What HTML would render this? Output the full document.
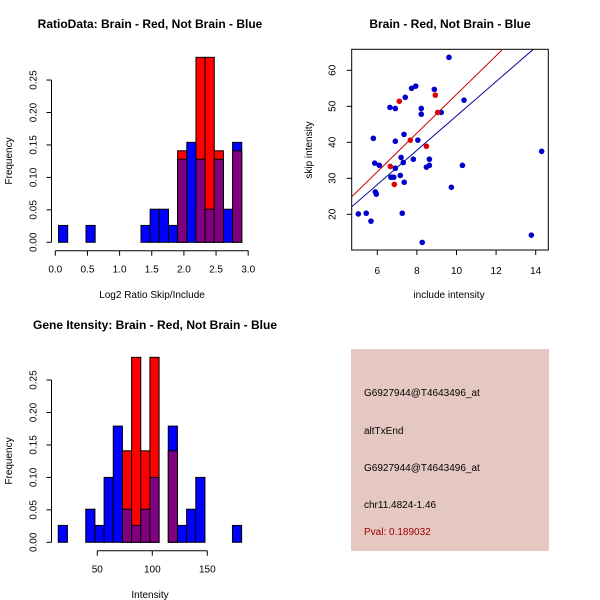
<!DOCTYPE html>
<html><head><meta charset="utf-8"><style>body{margin:0;background:#fff}svg{display:block;font-family:"Liberation Sans",sans-serif}</style></head>
<body>
<svg id="s" width="600" height="600" xmlns="http://www.w3.org/2000/svg">
<rect width="600" height="600" fill="#fff"/>
<text x="150" y="28" font-size="12" font-weight="bold" text-anchor="middle">RatioData: Brain - Red, Not Brain - Blue</text>
<text x="450" y="28" font-size="12" font-weight="bold" text-anchor="middle">Brain - Red, Not Brain - Blue</text>
<text x="155" y="329" font-size="12" font-weight="bold" text-anchor="middle">Gene Itensity: Brain - Red, Not Brain - Blue</text>
<text x="152" y="298" font-size="10" text-anchor="middle">Log2 Ratio Skip/Include</text>
<text x="150" y="598" font-size="10" text-anchor="middle">Intensity</text>
<text x="449" y="298" font-size="10" text-anchor="middle">include intensity</text>
<text transform="translate(12,161) rotate(-90)" font-size="10" text-anchor="middle">Frequency</text>
<text transform="translate(12,461) rotate(-90)" font-size="10" text-anchor="middle">Frequency</text>
<text transform="translate(312,150) rotate(-90)" font-size="10" text-anchor="middle">skip intensity</text>
<g>
<rect x="351" y="349" width="198" height="202" fill="#e6c8c2"/>
<text x="364" y="396" font-size="10">G6927944@T4643496_at</text>
<text x="364" y="434" font-size="10">altTxEnd</text>
<text x="364" y="471" font-size="10">G6927944@T4643496_at</text>
<text x="364" y="508" font-size="10">chr11.4824-1.46</text>
<text x="364" y="535" font-size="10" fill="#a00000">Pval: 0.189032</text>
</g>
</svg>
<script>
// Ratio histogram data (20 bins from 0.05, width 0.1425)
const ratioBinStart = 0.05, ratioBinWidth = 0.1425;
const ratioBlue = [0.026,0,0,0.026,0,0,0,0,0,0.026,0.051,0.051,0.026,0.128,0.154,0.128,0.051,0.128,0.051,0.154];
const ratioRed  = [0,0,0,0,0,0,0,0,0,0,0,0,0,0.141,0,0.285,0.285,0.141,0,0.141];
const ratioXTicks = [0,0.5,1,1.5,2,2.5,3];
const ratioXLabels = ["0.0","0.5","1.0","1.5","2.0","2.5","3.0"];
const freqTicks = [0,0.05,0.10,0.15,0.20,0.25];
const freqLabels = ["0.00","0.05","0.10","0.15","0.20","0.25"];
// Intensity histogram data
const intBinStart = 14.5, intBinWidth = 8.335;
const intBlue = [0.026,0,0,0.051,0.026,0.10,0.179,0.051,0.026,0.051,0.10,0,0.179,0.026,0.051,0.10,0,0,0,0.026];
const intRed  = [0,0,0,0,0,0,0,0.141,0.285,0.141,0.285,0,0.141,0,0,0,0,0,0,0];
const intXTicks = [50,100,150];
// Scatter data
const blueX = [9.62,7.73,7.94,8.88,7.41,10.38,6.64,6.91,8.22,8.22,9.23,5.80,7.35,6.91,8.05,7.2,7.82,8.63,5.87,6.1,7.31,8.48,8.63,10.3,6.91,6.69,6.83,7.16,7.36,5.9,5.95,9.74,5.04,5.44,7.26,5.68,8.27,13.78,14.3];
const blueY = [63.6,55.0,55.6,54.7,52.5,51.7,49.7,49.4,49.4,47.8,48.3,41.1,42.2,40.3,40.6,35.8,35.3,35.3,34.2,33.6,34.4,33.1,33.6,33.6,32.8,30.3,30.3,30.8,28.9,26.2,25.6,27.5,20.1,20.3,20.3,18.1,12.2,14.2,37.5];
const redX = [7.11,8.93,9.05,7.67,8.48,6.66,6.86];
const redY = [51.4,53.1,48.3,40.6,38.9,33.3,28.3];
const redLine = [-0.4,5.37];   // intercept, slope
const blueLine = [-0.37,4.77];
const scXTicks = [6,8,10,12,14];
const scYTicks = [20,30,40,50,60];

const svg = document.getElementById('s');
const NS = 'http://www.w3.org/2000/svg';
function mk(tag, attrs, parent){const e=document.createElementNS(NS,tag);for(const k in attrs)e.setAttribute(k,attrs[k]);(parent||svg).appendChild(e);return e;}

function hist(g, x, y, start, w, blue, red, nameP){
  for(let i=0;i<blue.length;i++){
    const x0=x(start+i*w), x1=x(start+(i+1)*w);
    const b=blue[i], r=red[i], lo=Math.min(b,r), hi=Math.max(b,r);
    if(hi>0){
      const r1=mk('rect',{x:x0,y:y(hi),width:x1-x0,height:y(0)-y(hi),fill:b>=r?'#0000ff':'#ff0000',stroke:'#000','stroke-width':1},g);
      
      
    }
    if(lo>0){
      const r2=mk('rect',{x:x0,y:y(lo),width:x1-x0,height:y(0)-y(lo),fill:'#800080',stroke:'#000','stroke-width':1},g);
      
      
    }
  }
}
function yAxis(g, y, ax){
  mk('line',{x1:ax,x2:ax,y1:y(0),y2:y(0.25),stroke:'#000'},g);
  freqTicks.forEach((v,i)=>{
    mk('line',{x1:ax-5,x2:ax,y1:y(v),y2:y(v),stroke:'#000'},g);
    const t=mk('text',{transform:`translate(${ax-15},${y(v)}) rotate(-90)`,'font-size':10,'text-anchor':'middle'},g);
    t.textContent=freqLabels[i];
  });
}
// Ratio histogram
{
  const g=mk('g',{});
  
  
  const x=v=>55.3+v*64.3, y=v=>242.3-v*649;
  hist(g,x,y,ratioBinStart,ratioBinWidth,ratioBlue,ratioRed,'ratio');
  yAxis(g,y,51.5);
  const ay=250.7;
  mk('line',{x1:x(0),x2:x(3),y1:ay,y2:ay,stroke:'#000'},g);
  ratioXTicks.forEach((v,i)=>{
    mk('line',{x1:x(v),x2:x(v),y1:ay,y2:ay+5,stroke:'#000'},g);
    const t=mk('text',{x:x(v),y:ay+22,'font-size':10,'text-anchor':'middle'},g);t.textContent=ratioXLabels[i];
  });
}
// Intensity histogram
{
  const g=mk('g',{});
  
  
  const x=v=>42.3+v*1.1, y=v=>542.3-v*649;
  hist(g,x,y,intBinStart,intBinWidth,intBlue,intRed,'intensity');
  yAxis(g,y,51.5);
  const ay=550.7;
  mk('line',{x1:x(50),x2:x(150),y1:ay,y2:ay,stroke:'#000'},g);
  intXTicks.forEach(v=>{
    mk('line',{x1:x(v),x2:x(v),y1:ay,y2:ay+5,stroke:'#000'},g);
    const t=mk('text',{x:x(v),y:ay+22,'font-size':10,'text-anchor':'middle'},g);t.textContent=String(v);
  });
}
// Scatter
{
  const g=mk('g',{});
  
  
  const L=351.7,R=548.3,T=49.3,B=250;
  const x=v=>377.3+(v-6)*19.8, y=v=>214.3-(v-20)*3.6;
  const xv=px=>(px-377.3)/19.8+6;
  const cp=mk('clipPath',{id:'cp'},g);mk('rect',{x:L,y:T,width:R-L,height:B-T},cp);
  [[redLine,'#cc0000','red-fit-line'],[blueLine,'#000099','blue-fit-line']].forEach(([ln,c,n])=>{
    const a=xv(L),b=xv(R);
    const l=mk('line',{x1:L,y1:y(ln[0]+ln[1]*a),x2:R,y2:y(ln[0]+ln[1]*b),stroke:c,'clip-path':'url(#cp)'},g);
    
    
  });
  blueX.forEach((v,i)=>{const c=mk('circle',{cx:x(v),cy:y(blueY[i]),r:2.8,fill:'#0000cc'},g);
    
    });
  redX.forEach((v,i)=>{const c=mk('circle',{cx:x(v),cy:y(redY[i]),r:2.8,fill:'#dd0000'},g);
    
    });
  mk('rect',{x:L,y:T,width:R-L,height:B-T,fill:'none',stroke:'#000'},g);
  scXTicks.forEach(v=>{mk('line',{x1:x(v),x2:x(v),y1:B,y2:B+5,stroke:'#000'},g);
    const t=mk('text',{x:x(v),y:B+24,'font-size':10,'text-anchor':'middle'},g);t.textContent=String(v);});
  scYTicks.forEach(v=>{mk('line',{x1:L-5,x2:L,y1:y(v),y2:y(v),stroke:'#000'},g);
    const t=mk('text',{transform:`translate(${L-16},${y(v)}) rotate(-90)`,'font-size':10,'text-anchor':'middle'},g);t.textContent=String(v);});
}
</script>
</body></html>
